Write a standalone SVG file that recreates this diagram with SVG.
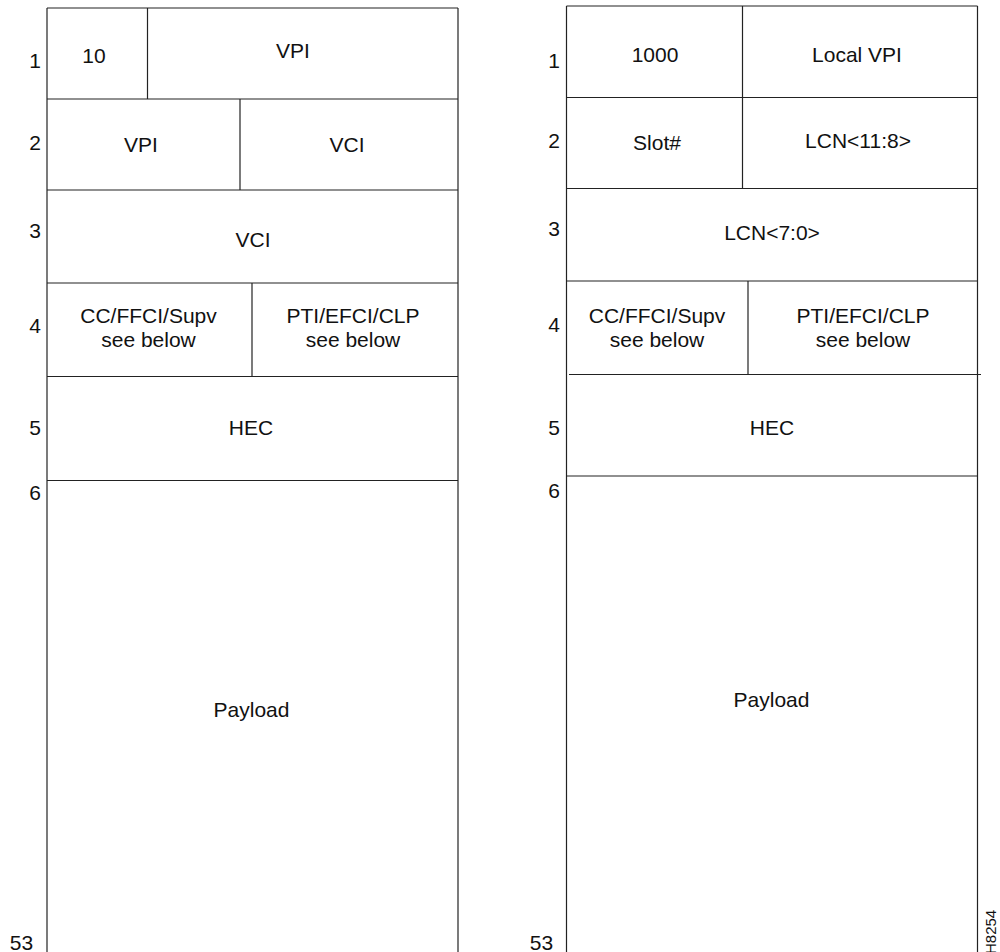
<svg xmlns="http://www.w3.org/2000/svg" width="1000" height="952" viewBox="0 0 1000 952">
<style>
  .ln { stroke: #222; stroke-width: 1.2; fill: none; }
  .t { font-family: "Liberation Sans", Arial, sans-serif; font-size: 21px; fill: #111; text-anchor: middle; }
  .id { font-family: "Liberation Sans", Arial, sans-serif; font-size: 15px; fill: #111; }
</style>
<rect width="1000" height="952" fill="#fff"/>

<g id="connectors"></g>

<g id="left-cell">
  <g id="left-frame">
    <line class="ln" x1="47" y1="8" x2="458" y2="8"/>
    <line class="ln" x1="47" y1="8" x2="47" y2="952"/>
    <line class="ln" x1="458" y1="8" x2="458" y2="952"/>
  </g>
  <g id="left-row1">
    <line class="ln" x1="147.5" y1="8" x2="147.5" y2="99"/>
    <line class="ln" x1="47" y1="99" x2="458" y2="99"/>
    <text class="t" x="35" y="68">1</text>
    <text class="t" x="94" y="63">10</text>
    <text class="t" x="293" y="58">VPI</text>
  </g>
  <g id="left-row2">
    <line class="ln" x1="240" y1="99" x2="240" y2="190"/>
    <line class="ln" x1="47" y1="190" x2="458" y2="190"/>
    <text class="t" x="35" y="150">2</text>
    <text class="t" x="141" y="152">VPI</text>
    <text class="t" x="347" y="152">VCI</text>
  </g>
  <g id="left-row3">
    <line class="ln" x1="47" y1="283" x2="458" y2="283"/>
    <text class="t" x="35" y="238">3</text>
    <text class="t" x="253" y="247">VCI</text>
  </g>
  <g id="left-row4">
    <line class="ln" x1="252" y1="283" x2="252" y2="376.5"/>
    <line class="ln" x1="47" y1="376.5" x2="458" y2="376.5"/>
    <text class="t" x="35" y="333">4</text>
    <text class="t" x="148.5" y="323">CC/FFCI/Supv</text>
    <text class="t" x="148.5" y="347">see below</text>
    <text class="t" x="353" y="323">PTI/EFCI/CLP</text>
    <text class="t" x="353" y="347">see below</text>
  </g>
  <g id="left-row5">
    <line class="ln" x1="47" y1="480.5" x2="458" y2="480.5"/>
    <text class="t" x="35" y="435">5</text>
    <text class="t" x="251" y="435">HEC</text>
  </g>
  <g id="left-payload">
    <text class="t" x="35" y="500">6</text>
    <text class="t" x="251.5" y="717">Payload</text>
    <text class="t" x="21.5" y="950">53</text>
  </g>
</g>

<g id="right-cell">
  <g id="right-frame">
    <line class="ln" x1="566.5" y1="6" x2="977.5" y2="6"/>
    <line class="ln" x1="566.5" y1="6" x2="566.5" y2="952"/>
    <line class="ln" x1="977.5" y1="6" x2="977.5" y2="952"/>
  </g>
  <g id="right-row1">
    <line class="ln" x1="742.5" y1="6" x2="742.5" y2="188.5"/>
    <line class="ln" x1="566.5" y1="97.5" x2="977.5" y2="97.5"/>
    <text class="t" x="554" y="68">1</text>
    <text class="t" x="655" y="62">1000</text>
    <text class="t" x="857" y="62">Local VPI</text>
  </g>
  <g id="right-row2">
    <line class="ln" x1="566.5" y1="188.5" x2="977.5" y2="188.5"/>
    <text class="t" x="554" y="148">2</text>
    <text class="t" x="657" y="150">Slot#</text>
    <text class="t" x="858" y="148">LCN&lt;11:8&gt;</text>
  </g>
  <g id="right-row3">
    <line class="ln" x1="566.5" y1="281" x2="977.5" y2="281"/>
    <text class="t" x="554" y="236">3</text>
    <text class="t" x="772" y="240">LCN&lt;7:0&gt;</text>
  </g>
  <g id="right-row4">
    <line class="ln" x1="748" y1="281" x2="748" y2="374.5"/>
    <line class="ln" x1="569" y1="374.5" x2="981" y2="374.5"/>
    <text class="t" x="554" y="332">4</text>
    <text class="t" x="657" y="323">CC/FFCI/Supv</text>
    <text class="t" x="657" y="347">see below</text>
    <text class="t" x="863" y="323">PTI/EFCI/CLP</text>
    <text class="t" x="863" y="347">see below</text>
  </g>
  <g id="right-row5">
    <line class="ln" x1="566.5" y1="476" x2="977.5" y2="476"/>
    <text class="t" x="554" y="435">5</text>
    <text class="t" x="772" y="435">HEC</text>
  </g>
  <g id="right-payload">
    <text class="t" x="554" y="498">6</text>
    <text class="t" x="771.5" y="707">Payload</text>
    <text class="t" x="541.5" y="950">53</text>
  </g>
</g>

<g id="figure-id">
  <text class="id" transform="translate(996 954) rotate(-90)">H8254</text>
</g>
</svg>
